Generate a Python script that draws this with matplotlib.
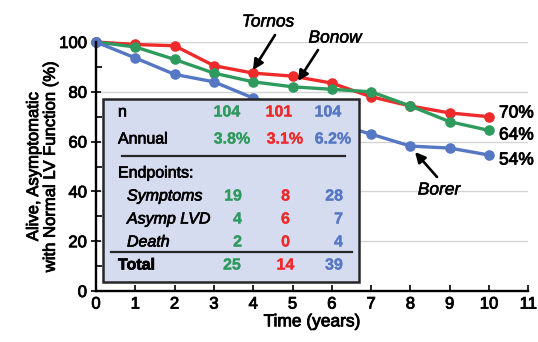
import matplotlib
matplotlib.use('Agg')
import matplotlib.pyplot as plt
from matplotlib.patches import Rectangle
from matplotlib.ticker import MultipleLocator
import matplotlib.patheffects as pe

plt.rcParams['font.family'] = ['Liberation Sans', 'DejaVu Sans']

years = list(range(11))
tornos = [100, 99, 98.5, 90.5, 87.5, 86.3, 83.5, 78, 74.3, 71.5, 70]
bonow = [100, 98, 93, 87.5, 84, 82, 81, 80, 74.3, 68, 64.5]
borer = [100, 93.6, 87, 84, 77.5, 72, 67.5, 63, 58.2, 57.4, 54.6]

end_labels = ['70%', '64%', '54%']
col_n = ['104', '101', '104']
col_annual = ['3.8%', '3.1%', '6.2%']
symptoms = ['19', '8', '28']
asymp_lvd = ['4', '6', '7']
death = ['2', '0', '4']
total = ['25', '14', '39']

RED = '#ee2a2b'
GREEN = '#2f9a5e'
BLUE = '#5677c3'
col_colors = [GREEN, RED, BLUE]


def heavy(color='black', w=0.6):
    return [pe.withStroke(linewidth=w, foreground=color)]


W, H = 538, 342
fig = plt.figure(figsize=(W / 100, H / 100), dpi=100)
X0, X11 = 96, 528.3
Y0, Y100 = 291, 42
ax = fig.add_axes([X0 / W, 1 - Y0 / H, (X11 - X0) / W, (Y0 - Y100) / H])
ax.set_xlim(0, 11)
ax.set_ylim(0, 100)


def px(x, y):
    return ((x - X0) / (X11 - X0) * 11, (Y0 - y) / (Y0 - Y100) * 100)


for yv in [20, 40, 60, 80, 100]:
    ax.axhline(yv, color='#d4d4d4', lw=1.0, zorder=1)

for data, c in [(tornos, RED), (bonow, GREEN), (borer, BLUE)]:
    ax.plot(years, data, color=c, lw=2.4, marker='o', ms=6.6, zorder=3, clip_on=False)

for sp in ['top', 'right']:
    ax.spines[sp].set_visible(False)
for sp in ['left', 'bottom']:
    ax.spines[sp].set_linewidth(1.7)
    ax.spines[sp].set_zorder(4)

ax.xaxis.set_major_locator(MultipleLocator(1))
ax.yaxis.set_major_locator(MultipleLocator(20))
ax.yaxis.set_minor_locator(MultipleLocator(10))
ax.tick_params(axis='x', direction='in', length=4, width=1.2, labelsize=12, pad=4)
ax.tick_params(axis='y', which='major', direction='inout', length=7, width=1.2, labelsize=12, pad=3)
ax.tick_params(axis='y', which='minor', direction='in', length=4, width=1.2)
for lab in ax.get_xticklabels() + ax.get_yticklabels():
    lab.set_path_effects(heavy())
ax.set_xlabel('Time (years)', fontsize=12.5, labelpad=2, path_effects=heavy())
ax.set_ylabel('Alive, Asymptomatic\nwith Normal LV Function (%)', fontsize=12,
              linespacing=1.15, labelpad=1, path_effects=heavy())

# table box
bx0, by0 = px(103, 282)
bx1, by1 = px(359, 99)
ax.add_patch(Rectangle((bx0, by0), bx1 - bx0, by1 - by0, facecolor='#d6dcf0',
                       edgecolor='#262626', lw=1.8, zorder=5))

fs = 11.5


def txt(x, y, s, color='black', w=0.5, **kw):
    dx, dy = px(x, y)
    ax.text(dx, dy, s, zorder=6, va='center', fontsize=fs, color=color,
            path_effects=heavy(color, w), **kw)


txt(118, 112, 'n')
txt(118, 139, 'Annual')
txt(118, 173, 'Endpoints:')
txt(127, 196, 'Symptoms', style='italic')
txt(127, 219, 'Asymp LVD', style='italic')
txt(127, 242, 'Death', style='italic')
txt(118, 265, 'Total', fontweight='bold')

for i, c in enumerate(col_colors):
    txt([227, 279, 328][i], 112, col_n[i], color=c, fontweight='bold', ha='center', w=0.2)
    txt([232, 285, 333][i], 139, col_annual[i], color=c, fontweight='bold', ha='center', w=0.2)
    xr = [242, 290, 343][i]
    txt(xr, 196, symptoms[i], color=c, fontweight='bold', ha='right', w=0.2)
    txt(xr, 219, asymp_lvd[i], color=c, fontweight='bold', ha='right', w=0.2)
    txt(xr, 242, death[i], color=c, fontweight='bold', ha='right', w=0.2)
    txt([232, 285.5, 334][i], 265, total[i], color=c, fontweight='bold', ha='center', w=0.2)

for (xa, xb, yy) in [(122, 345, 156), (111, 352, 252)]:
    a, b = px(xa, yy)
    c2, _ = px(xb, yy)
    ax.plot([a, c2], [b, b], color='#262626', lw=1.6, zorder=6)

# end labels
for s, yy in zip(end_labels, [113, 135, 160]):
    dx, dy = px(499, yy)
    ax.text(dx, dy, s, fontsize=12.5, va='center', ha='left', zorder=6, clip_on=False,
            path_effects=heavy())

# annotations
arrow = dict(arrowstyle='-|>,head_length=0.6,head_width=0.3', color='black', lw=1.9,
             shrinkA=0, shrinkB=0)
for label, tpos, tail, tip in [('Tornos', (268, 22), (275, 35), (253, 70)),
                               ('Bonow', (335, 38), (318, 50), (298, 81)),
                               ('Borer', (439, 190), (437, 177), (415, 152))]:
    ax.annotate('', xy=px(*tip), xytext=px(*tail), arrowprops=arrow, zorder=7,
                annotation_clip=False)
    dx, dy = px(*tpos)
    ax.text(dx, dy, label, fontsize=12.5, style='italic', ha='center', va='center',
            zorder=7, clip_on=False, path_effects=heavy(w=0.4))

fig.savefig('out.png', dpi=100)
